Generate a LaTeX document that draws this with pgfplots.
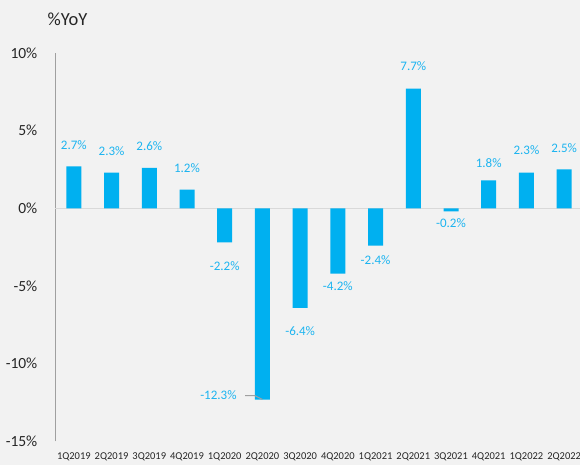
\documentclass[border=0pt]{standalone}
\usepackage{fontspec}
\setmainfont{Carlito}
\usepackage{pgfplots}
\pgfplotsset{compat=1.18}
\usepackage{pgfplotstable}
\definecolor{bg}{HTML}{F2F2F2}
\definecolor{barc}{HTML}{00B0F0}
\definecolor{labc}{HTML}{1CB4F0}
\definecolor{axisgray}{HTML}{A0A0A0}
\definecolor{zeroc}{HTML}{D9D9D9}
\definecolor{txt}{HTML}{262626}

\pgfplotstableread{
x y dx dy lab
0 2.7 0 21.6 2.7
1 2.3 0 21.6 2.3
2 2.6 0 22 2.6
3 1.2 0 21.7 1.2
4 -2.2 0 -23.4 -2.2
5 -12.3 -44 4 -12.3
6 -6.4 0 -23.7 -6.4
7 -4.2 0 -13 -4.2
8 -2.4 0 -14.3 -2.4
9 7.7 0 22 7.7
10 -0.2 0 -12 -0.2
11 1.8 0 16.7 1.8
12 2.3 0 22.3 2.3
13 2.5 0 21.7 2.5
}\data

\begin{document}
\begin{tikzpicture}[x=1pt,y=1pt]
\fill[bg] (0,0) rectangle (580,465);
\node[font=\fontsize{18.5}{20}\selectfont, text=txt] at (67.5,446) {\%YoY};
\begin{axis}[
  at={(55pt,23.5pt)}, anchor=south west,
  scale only axis, width=528pt, height=388.7pt,
  xmin=-0.5, xmax=13.5, ymin=-15, ymax=10,
  axis lines*=left,
  x axis line style={draw=none},
  y axis line style={draw=axisgray, line width=0.9pt},
  major tick length=0pt,
  clip=false,
  xtick={0,...,13},
  xticklabels={1Q2019,2Q2019,3Q2019,4Q2019,1Q2020,2Q2020,3Q2020,4Q2020,1Q2021,2Q2021,3Q2021,4Q2021,1Q2022,2Q2022},
  xticklabel style={anchor=north, inner sep=0pt, yshift=-11pt, font=\fontsize{10.5}{12}\selectfont, text=txt},
  ytick={-15,-10,-5,0,5,10},
  yticklabels={-15\%,-10\%,-5\%,0\%,5\%,10\%},
  yticklabel style={anchor=east, inner sep=0pt, xshift=-17.5pt, font=\fontsize{15.5}{17}\selectfont, text=txt},
]
\draw[zeroc, line width=1.2pt] (axis cs:-0.5,0) -- (axis cs:13.5,0);
\addplot[ybar, fill=barc, draw=none, bar width=15pt,
  point meta=explicit symbolic,
  visualization depends on={\thisrow{dx}\as\dx},
  visualization depends on={\thisrow{dy}\as\dy},
  nodes near coords={\pgfplotspointmeta\%},
  nodes near coords align={center},
  every node near coord/.append style={anchor=center, xshift=\dx pt, yshift=\dy pt, text=labc, font=\fontsize{13}{15}\selectfont},
] table[x=x, y=y, meta=lab] {\data};
\draw[axisgray, line width=1pt] (axis cs:4.54,-12.05) -- (axis cs:4.8,-12.05) -- (axis cs:5,-12.3);
\end{axis}
\pgfresetboundingbox
\path[use as bounding box] (0,0) rectangle (580,465);
\end{tikzpicture}
\end{document}
